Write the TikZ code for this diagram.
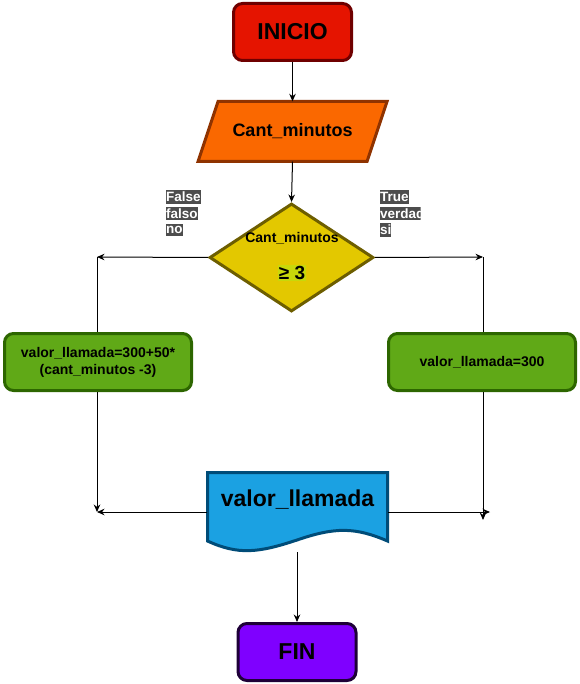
\documentclass[tikz,border=0pt]{standalone}
\usepackage{fontspec}
\setmainfont{Liberation Sans}
\usetikzlibrary{arrows.meta,shapes.geometric}

\definecolor{rojoIni}{HTML}{E51400}
\definecolor{rojoBorde}{HTML}{6F0000}
\definecolor{naranja}{HTML}{FA6800}
\definecolor{naranjaBorde}{HTML}{8F3300}
\definecolor{amarillo}{HTML}{E3C800}
\definecolor{amarilloBorde}{HTML}{6D5E00}
\definecolor{resalte}{HTML}{C8D80A}
\definecolor{verde}{HTML}{60A917}
\definecolor{verdeBorde}{HTML}{2D6600}
\definecolor{azul}{HTML}{1BA1E2}
\definecolor{azulBorde}{HTML}{004C78}
\definecolor{morado}{HTML}{7F00FF}
\definecolor{moradoBorde}{HTML}{1E0038}
\definecolor{grisEtiq}{HTML}{4D4D4D}

\begin{document}
\begin{tikzpicture}[x=1pt,y=-1pt,>={Stealth[length=7.5pt,width=6.5pt]},
  terminal/.style={rounded corners=9pt,line width=3pt,minimum width=118pt,
    minimum height=57pt,font=\fontsize{23}{27}\selectfont\bfseries},
  proceso/.style={draw=verdeBorde,fill=verde,rounded corners=9pt,line width=3pt,
    minimum width=187pt,minimum height=57pt,align=center,
    font=\fontsize{14}{17}\selectfont\bfseries},
  conector/.style={line width=1pt},
  etiqueta/.style={fill=grisEtiq,text=white,anchor=west,inner xsep=0pt,
    inner ysep=2pt,font=\fontsize{13.5}{13.5}\selectfont\bfseries}]
  \useasboundingbox (0,0) rectangle (579,684);
  %
  % Inicio y entrada
  \node[terminal,draw=rojoBorde,fill=rojoIni] (inicio) at (292.5,32) {INICIO};
  \draw[line width=3pt,draw=naranjaBorde,fill=naranja]
    (218,101.5) -- (387,101.5) -- (367,161.5) -- (198,161.5) -- cycle;
  \node[minimum height=60pt,font=\fontsize{18}{22}\selectfont\bfseries]
    (entrada) at (292.5,131.5) {Cant\_minutos};
  %
  % Decision
  \node[diamond,draw=amarilloBorde,fill=amarillo,line width=3pt,
    minimum width=164pt,minimum height=108pt,inner sep=0pt]
    (decision) at (291.5,257.5) {};
  \node[font=\fontsize{14}{17}\selectfont\bfseries] (pregunta) at (292,238) {Cant\_minutos};
  \node[fill=resalte,inner sep=1pt,font=\fontsize{19}{22}\selectfont\bfseries]
    (umbral) at (292,273) {≥ 3};
  %
  % Etiquetas de las ramas
  \node[etiqueta] (falso1) at (166,197) {False~};
  \node[etiqueta] (falso2) at (166,213.5) {falso~};
  \node[etiqueta] (falso3) at (166,230) {no~};
  \begin{scope}
    \clip (370,180) rectangle (420.5,245);
    \node[etiqueta] (cierto1) at (380,197) {True~};
    \node[etiqueta] (cierto2) at (380,213.5) {verdad};
    \node[etiqueta] (cierto3) at (380,230) {si~};
  \end{scope}
  %
  % Procesos
  \node[proceso] (sino) at (98,362) {valor\_llamada=300+50*\\(cant\_minutos -3)};
  \node[proceso] (sisi) at (482,362) {valor\_llamada=300};
  %
  % Salida (documento)
  \draw[line width=3pt,draw=azulBorde,fill=azul]
    (207.5,472.5) -- (387.5,472.5) -- (387.5,541)
    .. controls (355,527) and (335,527) .. (297,540)
    .. controls (258,553) and (238,555) .. (207.5,541) -- cycle;
  \node[font=\fontsize{23}{27}\selectfont\bfseries] (salida) at (297.5,500) {valor\_llamada};
  \coordinate (docO) at (207,512);
  \coordinate (docE) at (388,512);
  \coordinate (docS) at (297,552);
  %
  \node[terminal,draw=moradoBorde,fill=morado] (fin) at (297,652) {FIN};
  %
  % Conectores
  \coordinate (izqArr) at (97,257);
  \coordinate (izqAb) at (97,512);
  \coordinate (derArr) at (483,257);
  \coordinate (derAb) at (483,520);
  \coordinate (derFin) at (490,512);
  \draw[conector,->] (inicio.south) -- (entrada.north);
  \draw[conector,->] (entrada.south) -- (decision.north);
  \draw[conector,->] (decision.west) -- (izqArr);
  \draw[conector] (izqArr) -- (izqArr |- sino.north);
  \draw[conector,->] (decision.east) -- (derArr);
  \draw[conector] (derArr) -- (derArr |- sisi.north);
  \draw[conector,->] (sino.south -| izqArr) -- (izqAb);
  \draw[conector,->] (docO) -- (izqAb);
  \draw[conector,->] (sisi.south -| derArr) -- (derAb);
  \draw[conector,->] (docE) -- (derFin);
  \draw[conector,->] (docS) -- (fin.north);
\end{tikzpicture}
\end{document}
